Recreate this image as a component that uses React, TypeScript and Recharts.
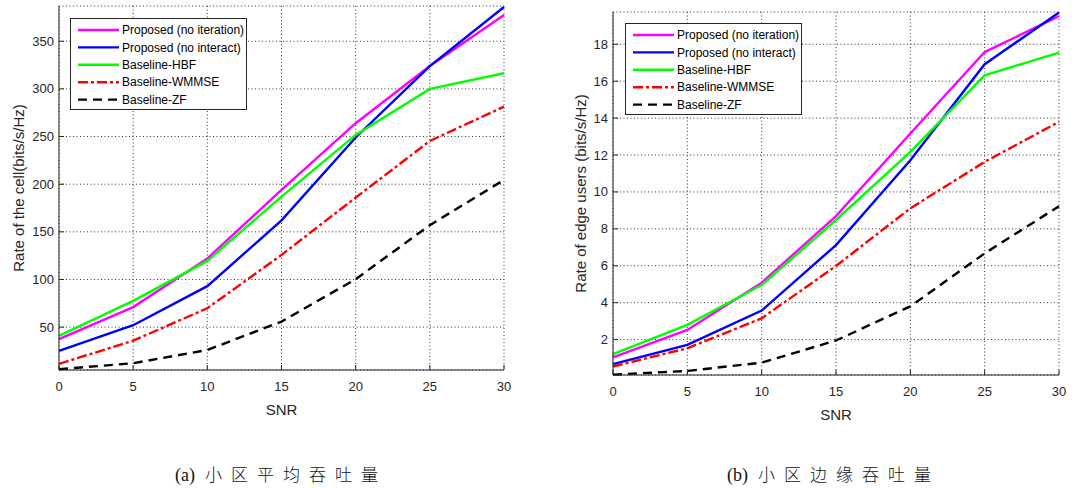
import { LineChart, Line, XAxis, YAxis, CartesianGrid } from "recharts";

const snr = [0, 5, 10, 15, 20, 25, 30];

// (a) average cell rate
const cellNoIteration = [37.3, 71, 122, 194, 264, 324, 377.6];
const cellNoInteract = [25, 52, 93, 162, 249, 324, 386];
const cellHbf = [40.8, 77.5, 119.5, 187, 251.7, 300, 316.4];
const cellWmmse = [11.4, 35.8, 69.8, 125.8, 185.9, 245.4, 281.4];
const cellZf = [5.8, 12.1, 26, 55.8, 100.3, 157, 204.5];

// (b) edge user rate
const edgeNoIteration = [1.03, 2.52, 5.08, 8.69, 13.17, 17.58, 19.52];
const edgeNoInteract = [0.67, 1.71, 3.57, 7.12, 11.72, 16.92, 19.72];
const edgeHbf = [1.21, 2.8, 4.96, 8.48, 12.17, 16.32, 17.55];
const edgeWmmse = [0.54, 1.53, 3.15, 5.99, 9.11, 11.63, 13.8];
const edgeZf = [0.1, 0.3, 0.75, 1.95, 3.8, 6.67, 9.23];

const xTicks = [0, 5, 10, 15, 20, 25, 30];
const cellTicks = [50, 100, 150, 200, 250, 300, 350];
const edgeTicks = [2, 4, 6, 8, 10, 12, 14, 16, 18];

const seriesNames = [
  "Proposed (no iteration)",
  "Proposed (no interact)",
  "Baseline-HBF",
  "Baseline-WMMSE",
  "Baseline-ZF",
];

const seriesStyle = [
  { color: "#ff00ff", dash: undefined },
  { color: "#0000ff", dash: undefined },
  { color: "#00ff00", dash: undefined },
  { color: "#ff0000", dash: "10 3 3 3" },
  { color: "#000000", dash: "9 6" },
];

const TXT = "#262626";
const FONT = "'Liberation Sans', Arial, sans-serif";

const buildRows = (series: number[][]) =>
  snr.map((s, i) => {
    const row: Record<string, number> = { snr: s };
    series.forEach((vals, k) => {
      row["s" + k] = vals[i];
    });
    return row;
  });

const BottomTick = (props: any) => {
  const { x, y, payload } = props;
  return (
    <g>
      <line x1={x} x2={x} y1={y} y2={y - 5} stroke={TXT} />
      <text x={x} y={y + 21} textAnchor="middle" fill={TXT} fontSize={13} fontFamily={FONT}>
        {payload.value}
      </text>
    </g>
  );
};

const TopTick = (props: any) => {
  const { x, y } = props;
  return <line x1={x} x2={x} y1={y} y2={y + 5} stroke={TXT} />;
};

const LeftTick = (props: any) => {
  const { x, y, payload } = props;
  return (
    <g>
      <line x1={x} x2={x + 5} y1={y} y2={y} stroke={TXT} />
      <text x={x - 5} y={y} dy="0.35em" textAnchor="end" fill={TXT} fontSize={13} fontFamily={FONT}>
        {payload.value}
      </text>
    </g>
  );
};

const RightTick = (props: any) => {
  const { x, y } = props;
  return <line x1={x} x2={x - 5} y1={y} y2={y} stroke={TXT} />;
};

const LegendBox = ({ left, top }: { left: number; top: number }) => (
  <svg width={177} height={92} style={{ position: "absolute", left, top, display: "block" }}>
    <rect x={0.5} y={0.5} width={176} height={91} fill="#fff" stroke={TXT} />
    {seriesNames.map((name, i) => {
      const cy = 12 + i * 17.4;
      return (
        <g key={name}>
          <line
            x1={8}
            x2={49}
            y1={cy}
            y2={cy}
            stroke={seriesStyle[i].color}
            strokeWidth={2.4}
            strokeDasharray={seriesStyle[i].dash}
          />
          <text x={52} y={cy} dy="0.35em" fontSize={12} fontFamily={FONT} fill="#000">
            {name}
          </text>
        </g>
      );
    })}
  </svg>
);

type PanelProps = {
  series: number[][];
  domain: [number, number];
  yTicks: number[];
  yLabel: string;
  yAxisWidth: number;
  margin: { top: number; right: number; left: number; bottom: number };
  yLabelX: number;
};

function Panel({ series, domain, yTicks, yLabel, yAxisWidth, margin, yLabelX }: PanelProps) {
  const data = buildRows(series);
  return (
    <LineChart width={520} height={440} data={data} margin={margin}>
      <CartesianGrid stroke="#333" strokeDasharray="1 2.5" />
      <XAxis
        dataKey="snr"
        type="number"
        domain={[0, 30]}
        ticks={xTicks}
        height={40}
        tickSize={0}
        tickMargin={0}
        tick={<BottomTick />}
        axisLine={{ stroke: TXT }}
        tickLine={false}
        label={{
          content: (p: any) => (
            <text
              x={p.viewBox.x + p.viewBox.width / 2}
              y={p.viewBox.y + 45}
              textAnchor="middle"
              fontSize={15}
              fontFamily={FONT}
              fill={TXT}
            >
              SNR
            </text>
          ),
        }}
      />
      <XAxis
        xAxisId="top"
        orientation="top"
        dataKey="snr"
        type="number"
        domain={[0, 30]}
        ticks={xTicks}
        height={0}
        tickSize={0}
        tickMargin={0}
        tick={<TopTick />}
        axisLine={{ stroke: TXT }}
        tickLine={false}
      />
      <YAxis
        type="number"
        domain={domain}
        ticks={yTicks}
        width={yAxisWidth}
        tickSize={0}
        tickMargin={0}
        tick={<LeftTick />}
        axisLine={{ stroke: TXT }}
        tickLine={false}
        label={{
          content: (p: any) => {
            const cy = p.viewBox.y + p.viewBox.height / 2;
            return (
              <text
                x={yLabelX}
                y={cy}
                transform={`rotate(-90 ${yLabelX} ${cy})`}
                textAnchor="middle"
                dominantBaseline="central"
                fontSize={15}
                fontFamily={FONT}
                fill={TXT}
              >
                {yLabel}
              </text>
            );
          },
        }}
      />
      <YAxis
        yAxisId="right"
        orientation="right"
        type="number"
        domain={domain}
        ticks={yTicks}
        width={0}
        tickSize={0}
        tickMargin={0}
        tick={<RightTick />}
        axisLine={{ stroke: TXT }}
        tickLine={false}
      />
      {series.map((_, k) => (
        <Line
          key={k}
          dataKey={"s" + k}
          name={seriesNames[k]}
          stroke={seriesStyle[k].color}
          strokeWidth={2.4}
          strokeDasharray={seriesStyle[k].dash}
          dot={false}
          activeDot={false}
          isAnimationActive={false}
          type="linear"
        />
      ))}
    </LineChart>
  );
}

const captionStyle: React.CSSProperties = {
  position: "absolute",
  top: 464,
  fontFamily: "'Liberation Serif', 'Noto Sans CJK SC', serif",
  fontSize: 18,
  color: "#111",
  whiteSpace: "nowrap",
  lineHeight: "20px",
};

const cjk: React.CSSProperties = {
  fontFamily: "'Noto Sans CJK SC', sans-serif",
  fontWeight: 300,
  fontSize: 17,
  letterSpacing: 9,
  marginLeft: 10,
};

export default function App() {
  return (
    <div style={{ position: "absolute", left: 0, top: 0, width: 1088, height: 488, background: "#fff" }}>
      <div style={{ position: "absolute", left: 0, top: 0 }}>
        <Panel
          series={[cellNoIteration, cellNoInteract, cellHbf, cellWmmse, cellZf]}
          domain={[5, 387]}
          yTicks={cellTicks}
          yLabel="Rate of the cell(bits/s/Hz)"
          yAxisWidth={59}
          margin={{ top: 6, right: 16, left: 0, bottom: 30 }}
          yLabelX={18}
        />
        <LegendBox left={70} top={18} />
      </div>
      <div style={{ position: "absolute", left: 548, top: 0 }}>
        <Panel
          series={[edgeNoIteration, edgeNoInteract, edgeHbf, edgeWmmse, edgeZf]}
          domain={[0.08, 19.75]}
          yTicks={edgeTicks}
          yLabel="Rate of edge users (bits/s/Hz)"
          yAxisWidth={65}
          margin={{ top: 12, right: 9, left: 0, bottom: 25 }}
          yLabelX={32}
        />
        <LegendBox left={77} top={23} />
      </div>
      <div style={{ ...captionStyle, left: 175 }}>
        (a)<span style={cjk}>小区平均吞吐量</span>
      </div>
      <div style={{ ...captionStyle, left: 727 }}>
        (b)<span style={cjk}>小区边缘吞吐量</span>
      </div>
    </div>
  );
}
